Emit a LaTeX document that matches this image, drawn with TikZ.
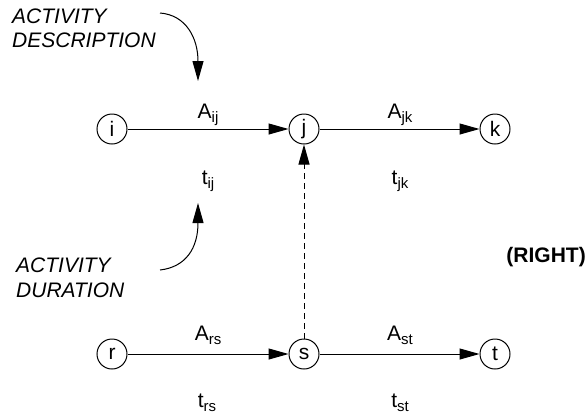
\documentclass[tikz,border=0pt]{standalone}
\usepackage{fontspec}
\setmainfont{Liberation Sans}
\usetikzlibrary{arrows.meta}
\newcommand\subtx[1]{\raisebox{-4.5pt}{\fontsize{15}{15}\selectfont #1}}
\begin{document}
\begin{tikzpicture}[x=1pt,y=-1pt,
  ev/.style={circle,draw,line width=1pt,minimum size=30pt,inner sep=0pt,font=\fontsize{21}{21}\selectfont},
  lab/.style={anchor=base,inner sep=0pt,font=\fontsize{21}{21}\selectfont},
  note/.style={anchor=base west,inner sep=0pt,font=\fontsize{21}{21}\selectfont\itshape},
  arr/.style={line width=1pt,-{Triangle[length=20pt,width=11pt]}},
  ]
\useasboundingbox (0,0) rectangle (586,416);

% events
\node[ev] (i) at (112,129) {i};
\node[ev] (j) at (304,129) {j};
\node[ev] (k) at (495,129) {k};
\node[ev] (r) at (112,354) {r};
\node[ev] (s) at (304,354) {s};
\node[ev] (t) at (495,354) {t};

% activities
\draw[arr] (i) -- (j);
\draw[arr] (j) -- (k);
\draw[arr] (r) -- (s);
\draw[arr] (s) -- (t);
\draw[arr,dash pattern=on 6pt off 4pt] (s) -- (j);

% labels
\node[lab] (aij) at (208,118) {A\subtx{ij}};
\node[lab] (ajk) at (400,118) {A\subtx{jk}};
\node[lab] (tij) at (208,184) {t\subtx{ij}};
\node[lab] (tjk) at (400,184) {t\subtx{jk}};
\node[lab] (ars) at (208,340) {A\subtx{rs}};
\node[lab] (ast) at (400,340) {A\subtx{st}};
\node[lab] (trs) at (207,407) {t\subtx{rs}};
\node[lab] (tst) at (400,407) {t\subtx{st}};

% notes
\node[note] (n1) at (12,23) {ACTIVITY};
\node[note] (n2) at (12,47) {DESCRIPTION};
\node[note] (n3) at (16,272) {ACTIVITY};
\node[note] (n4) at (16,297) {DURATION};
\node[anchor=base east,inner sep=0pt,font=\fontsize{21}{21}\selectfont\bfseries] (right) at (586,262) {(RIGHT)};

% pointer arrows
\coordinate (d0) at (160,13);
\coordinate (d1) at (198,81);
\draw[arr] (d0) .. controls (186,15) and (198,38) .. (d1);
\coordinate (u0) at (160,270);
\coordinate (u1) at (198,203);
\draw[arr] (u0) .. controls (186,267) and (198,248) .. (u1);
\end{tikzpicture}
\end{document}
